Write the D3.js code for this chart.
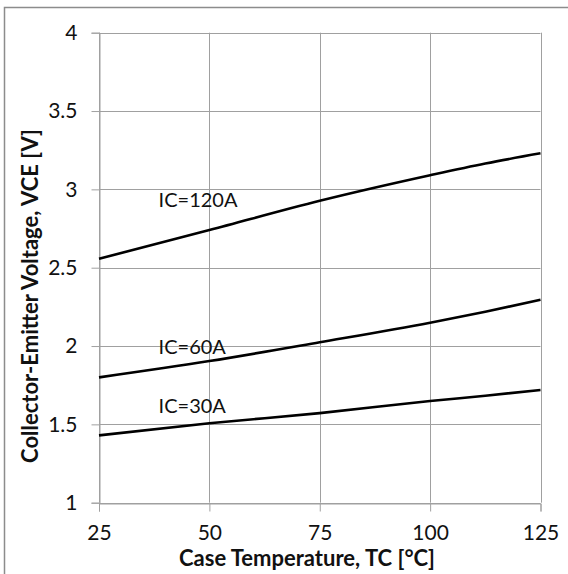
<!DOCTYPE html>
<html>
<head>
  <meta charset="UTF-8">
  <style>
    body { margin: 0; background: #fff; }
    svg { display: block; }
    .tick text { font-family: Lato, "Open Sans", sans-serif; font-size: 21px; fill: #111; }
    .title { font-family: Lato, "Open Sans", sans-serif; font-size: 22px; font-weight: bold; fill: #111; }
    .lbl { font-family: Lato, "Open Sans", sans-serif; font-size: 20px; fill: #111; }
  </style>
</head>
<body>
<svg id="chart" width="568" height="574"></svg>
<script src="https://d3js.org/d3.v7.min.js"></script>
<script>
    // temperatures [°C]
    var temps = [25, 50, 75, 100, 112.5, 125];
    // VCE [V] per collector current
    var ic30  = [1.43, 1.507, 1.572, 1.649, 1.683, 1.719];
    var ic60  = [1.80, 1.904, 2.024, 2.149, 2.219, 2.295];
    var ic120 = [2.557, 2.74, 2.927, 3.09, 3.165, 3.23];
    var seriesNames = ["IC=120A", "IC=60A", "IC=30A"];
    var xTicks = [25, 50, 75, 100, 125];
    var yTicks = [1, 1.5, 2, 2.5, 3, 3.5, 4];

    var svg = d3.select("#chart");

    // outer frame (right/bottom edges fall outside the picture)
    svg.append("rect")
        .attr("x", 4.5).attr("y", 7.5)
        .attr("width", 700).attr("height", 700)
        .attr("fill", "none").attr("stroke", "#8c8c8c").attr("stroke-width", 1.5);

    var x = d3.scaleLinear().domain([25, 125]).range([99, 540.5]);
    var y = d3.scaleLinear().domain([1, 4]).range([502.7, 32.7]);

    // gridlines
    svg.append("g").selectAll("line.v")
        .data(xTicks).enter().append("line")
        .attr("x1", d => Math.round(x(d)) + 0.5).attr("x2", d => Math.round(x(d)) + 0.5)
        .attr("y1", y(4)).attr("y2", y(1))
        .attr("stroke", "#a0a0a0").attr("stroke-width", 1);
    svg.append("g").selectAll("line.h")
        .data(yTicks).enter().append("line")
        .attr("x1", x(25)).attr("x2", x(125))
        .attr("y1", d => Math.round(y(d)) + 0.5).attr("y2", d => Math.round(y(d)) + 0.5)
        .attr("stroke", "#a0a0a0").attr("stroke-width", 1);

    // axes
    var xAxis = svg.append("g")
        .attr("transform", "translate(0," + (Math.round(y(1)) + 0.5) + ")")
        .call(d3.axisBottom(x).tickValues(xTicks).tickSize(8).tickPadding(14).tickFormat(d3.format("d")));
    var yAxis = svg.append("g")
        .attr("transform", "translate(" + (Math.round(x(25)) + 0.5) + ",0)")
        .call(d3.axisLeft(y).tickValues(yTicks).tickSize(8).tickPadding(14).tickFormat(d => d));
    [xAxis, yAxis].forEach(function(a) {
        a.select(".domain").attr("stroke", "#a0a0a0");
        a.selectAll(".tick line").attr("stroke", "#a0a0a0");
    });

    // curves
    var line = d3.line()
        .x((d, i) => x(temps[i]))
        .y(d => y(d))
        .curve(d3.curveMonotoneX);
    [ic120, ic60, ic30].forEach(function(s) {
        svg.append("path")
            .attr("d", line(s))
            .attr("fill", "none")
            .attr("stroke", "#000")
            .attr("stroke-width", 2.6);
    });

    // curve labels
    var lblPos = [[38.5, 2.887], [38.5, 1.948], [38.5, 1.57]];
    seriesNames.forEach(function(n, i) {
        svg.append("text").attr("class", "lbl")
            .attr("x", x(lblPos[i][0])).attr("y", y(lblPos[i][1]))
            .text(n);
    });

    // axis titles
    svg.append("text").attr("class", "title")
        .attr("x", 307).attr("y", 566)
        .attr("text-anchor", "middle")
        .text("Case Temperature, TC [°C]");
    svg.append("text").attr("class", "title")
        .attr("transform", "translate(38,296) rotate(-90)")
        .attr("text-anchor", "middle")
        .text("Collector-Emitter Voltage, VCE [V]");
</script>
</body>
</html>
